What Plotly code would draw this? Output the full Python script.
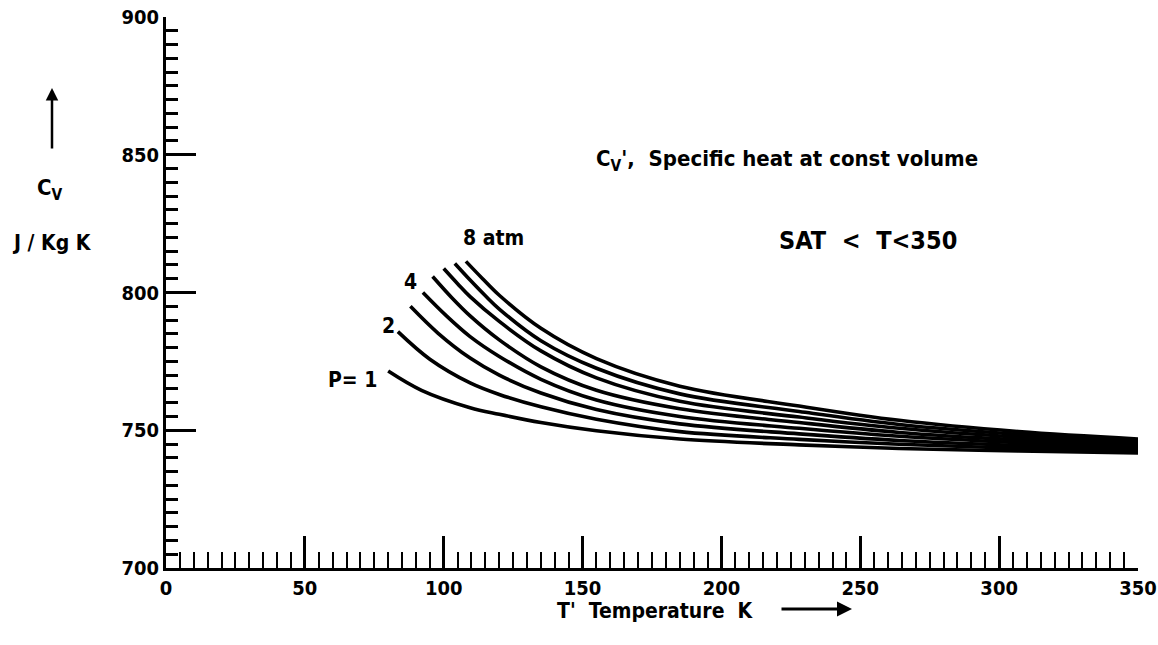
import plotly.graph_objects as go

# ---- data ----
pressures = [1, 2, 3, 4, 5, 6, 7, 8]  # atm

T_p1 = [80, 92, 109.5, 120, 135, 155, 185, 228, 264, 307, 350]
cv_p1 = [771.5, 764.5, 758.2, 755.8, 752.8, 749.8, 746.8, 744.7, 743.4, 742.5, 741.8]

T_p2 = [83.5, 95, 109.5, 120, 135, 155, 185, 228, 264, 307, 350]
cv_p2 = [785.8, 775.8, 767.2, 763.0, 758.5, 754.0, 749.5, 746.7, 744.9, 743.5, 742.5]

T_p3 = [88, 98, 109.5, 120, 135, 155, 185, 228, 264, 307, 350]
cv_p3 = [795.0, 785.2, 776.2, 770.0, 763.5, 757.5, 752.3, 748.7, 746.3, 744.5, 743.2]

T_p4 = [92.5, 101, 109.5, 120, 135, 155, 185, 228, 264, 307, 350]
cv_p4 = [800.0, 791.5, 784.0, 776.8, 768.5, 761.0, 755.0, 750.7, 747.8, 745.5, 743.9]

T_p5 = [96, 103, 109.5, 120, 135, 155, 185, 228, 264, 307, 350]
cv_p5 = [805.8, 798.0, 791.5, 782.8, 773.0, 764.5, 757.8, 752.8, 749.2, 746.5, 744.6]

T_p6 = [100, 105, 109.5, 120, 135, 155, 185, 228, 264, 307, 350]
cv_p6 = [808.7, 803.2, 798.5, 789.5, 778.8, 769.0, 760.5, 754.8, 750.7, 747.5, 745.4]

T_p7 = [104, 109.5, 115, 120, 135, 155, 185, 228, 264, 307, 350]
cv_p7 = [810.5, 804.5, 798.8, 794.0, 782.5, 772.5, 763.2, 756.8, 752.1, 748.5, 746.1]

T_p8 = [108, 114, 120, 135, 155, 185, 228, 264, 307, 350]
cv_p8 = [811.3, 805.0, 799.0, 787.0, 776.0, 766.0, 758.8, 753.6, 749.5, 746.8]

x_ticks = [0, 50, 100, 150, 200, 250, 300, 350]
y_ticks = [700, 750, 800, 850, 900]

FONT = "DejaVu Sans Condensed, DejaVu Sans, sans-serif"

series_T = [T_p1, T_p2, T_p3, T_p4, T_p5, T_p6, T_p7, T_p8]
series_cv = [cv_p1, cv_p2, cv_p3, cv_p4, cv_p5, cv_p6, cv_p7, cv_p8]

fig = go.Figure()
for p, t, c in zip(pressures, series_T, series_cv):
    fig.add_trace(go.Scatter(
        x=t, y=c, mode="lines", name=f"P={p}",
        line=dict(color="black", width=3.6, shape="spline", smoothing=1.0),
        showlegend=False, hoverinfo="skip"))

axis_common = dict(
    showline=True, linecolor="black", linewidth=3, mirror=False,
    showgrid=False, zeroline=False, automargin=False,
    ticks="inside", tickcolor="black", tickwidth=2.5,
    tickfont=dict(family=FONT, size=20, color="black", weight="bold"),
)

fig.update_xaxes(
    range=[0, 350], tickvals=x_ticks, ticklen=32,
    minor=dict(dtick=5, tick0=0, ticks="inside", ticklen=16, tickwidth=2, tickcolor="black", showgrid=False),
    **axis_common)
fig.update_yaxes(
    range=[700, 900], tickvals=y_ticks, ticklen=30,
    minor=dict(dtick=5, tick0=700, ticks="inside", ticklen=12, tickwidth=2.5, tickcolor="black", showgrid=False),
    **axis_common)


def f(size):
    return dict(family=FONT, size=size, color="black", weight="bold")


annotations = [
    dict(x=(787 - 166) / 2.777, y=848, xref="x", yref="y", showarrow=False,
         text="C<sub>V</sub>',  Specific heat at const volume", font=f(22)),
    dict(x=(868 - 166) / 2.777, y=819, xref="x", yref="y", showarrow=False,
         text="SAT  &lt;  T&lt;350", font=f(25)),
    dict(x=67, y=768.2, xref="x", yref="y", showarrow=False, text="P= 1", font=f(21)),
    dict(x=80, y=788, xref="x", yref="y", showarrow=False, text="2", font=f(21)),
    dict(x=88.2, y=803.8, xref="x", yref="y", showarrow=False, text="4", font=f(21)),
    dict(x=118, y=819.8, xref="x", yref="y", showarrow=False, text="8 atm", font=f(21)),
    # x title
    dict(x=(655 - 166) / 972, y=(568 - 611) / 551, xref="paper", yref="paper",
         xanchor="center", yanchor="middle", showarrow=False,
         text="T'  Temperature  K", font=f(21)),
    dict(x=(852 - 166) / 972, y=(568 - 609) / 551, xref="paper", yref="paper", showarrow=True,
         ax=-72, ay=0, text="", arrowhead=2, arrowsize=1, arrowwidth=3, arrowcolor="black"),
    # y title
    dict(x=(52 - 166) / 972, y=(568 - 88) / 551, xref="paper", yref="paper", showarrow=True,
         ax=0, ay=62, text="", arrowhead=2, arrowsize=1, arrowwidth=2.5, arrowcolor="black"),
    dict(x=(50 - 166) / 972, y=(568 - 190) / 551, xref="paper", yref="paper",
         xanchor="center", yanchor="middle", showarrow=False,
         text="C<sub>V</sub>", font=f(22)),
    dict(x=(52 - 166) / 972, y=(568 - 243) / 551, xref="paper", yref="paper",
         xanchor="center", yanchor="middle", showarrow=False,
         text="J / Kg K", font=f(21)),
]

fig.update_layout(
    width=1158, height=645,
    margin=dict(l=166, r=20, t=17, b=77),
    paper_bgcolor="white", plot_bgcolor="white",
    annotations=annotations,
)

fig.write_html("out.html")
